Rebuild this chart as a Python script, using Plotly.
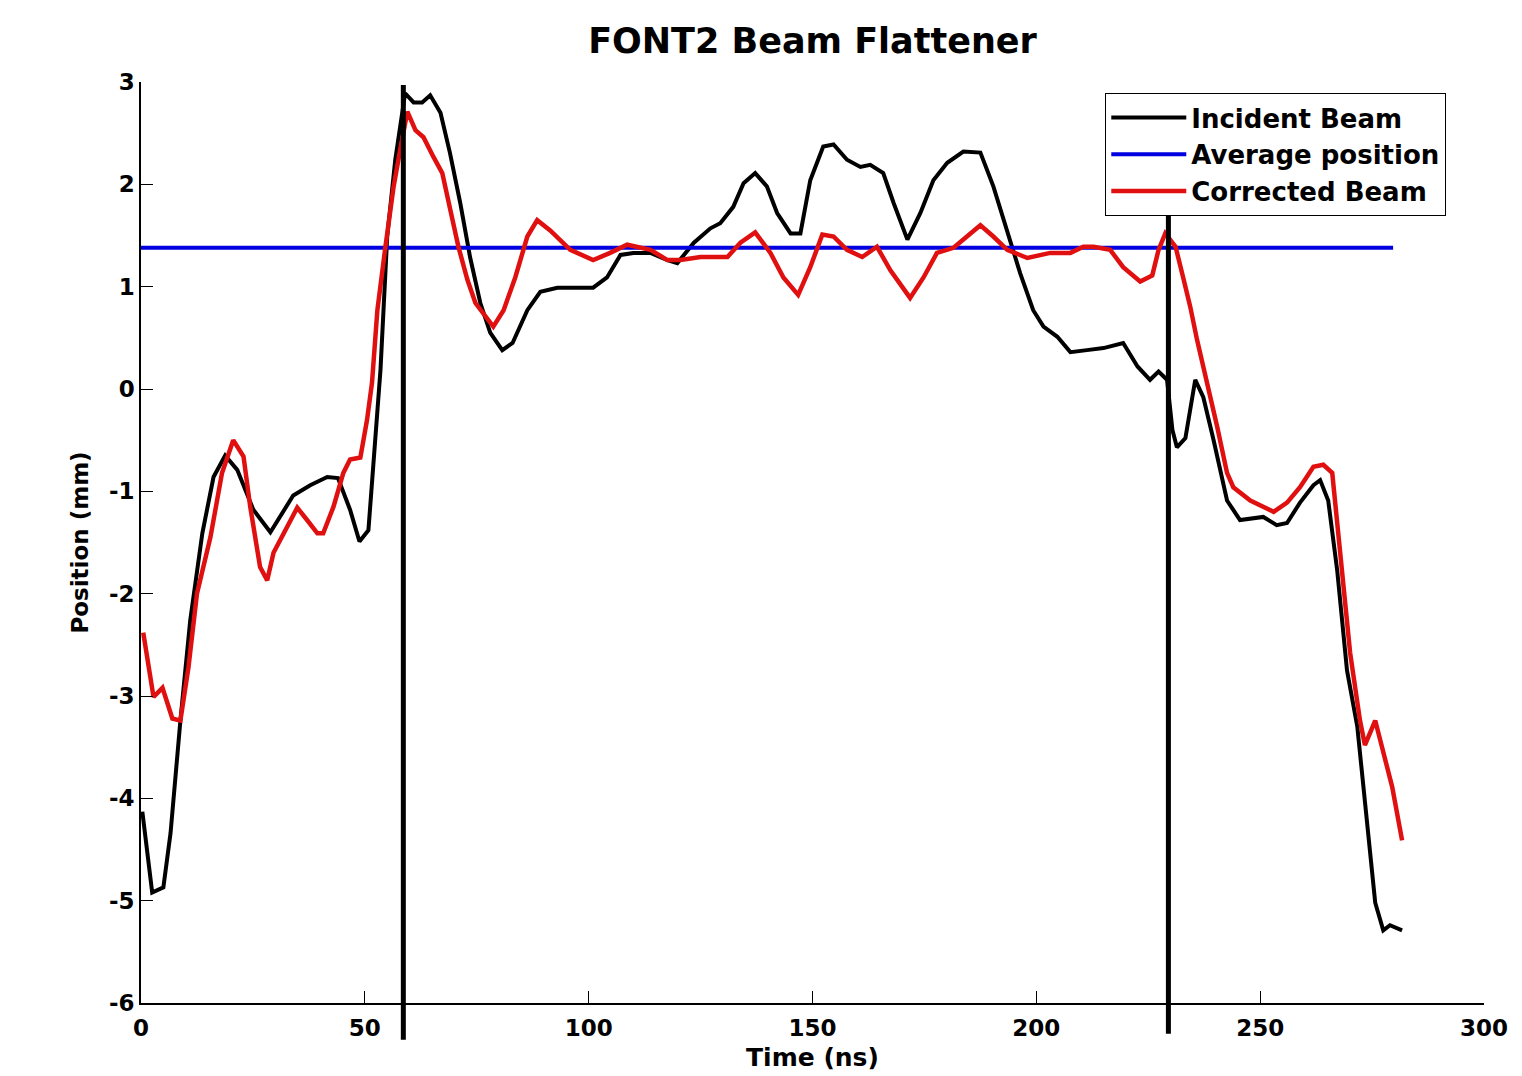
import plotly.graph_objects as go

# Incident beam (black)
inc_t = [0.3, 2.5, 5.0, 6.6, 8.8, 11.0, 13.7, 16.2, 18.8, 21.5, 25.1, 28.9, 34.0, 37.8, 41.6, 44.0,
         46.7, 48.8, 50.8, 52.3, 53.5, 55.0, 56.8, 59.0, 60.9, 62.8, 64.6, 66.9, 69.0, 71.3, 73.5,
         75.8, 78.0, 80.7, 83.0, 86.3, 89.2, 93.0, 97.4, 101.0, 104.1, 107.1, 110.0, 113.8, 117.6,
         119.8, 123.5, 127.2, 129.4, 132.3, 134.6, 137.2, 139.8, 142.1, 145.1, 147.3, 149.5, 152.4,
         154.7, 157.7, 160.7, 162.9, 165.8, 168.1, 171.2, 174.1, 177.0, 180.1, 183.7, 187.5, 190.4,
         193.5, 196.4, 199.3, 201.6, 204.7, 207.6, 211.3, 215.0, 219.4, 222.6, 225.4, 227.3, 229.2,
         230.4, 231.4, 233.3, 235.5, 237.3, 239.6, 242.6, 245.5, 250.7, 253.7, 256.0, 258.9, 261.9,
         263.4, 265.2, 267.2, 269.4, 271.7, 273.0, 274.6, 275.7, 277.5, 279.0, 281.7]
inc_y = [-4.13, -4.92, -4.87, -4.34, -3.24, -2.26, -1.41, -0.86, -0.65, -0.79, -1.18, -1.40, -1.04,
         -0.94, -0.86, -0.87, -1.18, -1.49, -1.38, -0.57, 0.19, 1.49, 2.24, 2.89, 2.80, 2.80, 2.87,
         2.70, 2.31, 1.82, 1.29, 0.84, 0.55, 0.38, 0.45, 0.77, 0.95, 0.99, 0.99, 0.99, 1.09, 1.31,
         1.33, 1.33, 1.26, 1.23, 1.43, 1.57, 1.62, 1.78, 2.01, 2.11, 1.98, 1.72, 1.52, 1.52, 2.04,
         2.37, 2.39, 2.24, 2.17, 2.19, 2.11, 1.82, 1.46, 1.72, 2.04, 2.21, 2.32, 2.31, 1.98, 1.55,
         1.13, 0.77, 0.61, 0.51, 0.36, 0.38, 0.40, 0.45, 0.22, 0.09, 0.17, 0.09, -0.40, -0.57,
         -0.48, 0.09, -0.08, -0.50, -1.09, -1.28, -1.25, -1.33, -1.31, -1.11, -0.94, -0.89, -1.09,
         -1.77, -2.75, -3.30, -3.89, -4.54, -5.02, -5.29, -5.24, -5.29]

# Corrected beam (red)
cor_t = [0.5, 2.8, 4.8, 7.0, 8.8, 10.6, 12.5, 15.5, 18.1, 20.6, 22.9, 24.4, 26.6, 28.2, 29.6, 31.8,
         34.9, 37.1, 39.4, 40.7, 43.0, 45.2, 46.7, 49.0, 50.5, 51.6, 52.8, 54.6, 56.4, 57.9, 59.5,
         61.3, 63.1, 65.3, 67.3, 69.1, 70.9, 72.9, 74.7, 78.7, 81.0, 83.6, 86.3, 88.5, 91.4, 95.9,
         101.0, 104.8, 108.6, 113.8, 117.6, 120.5, 125.0, 131.0, 133.9, 137.2, 140.6, 143.5, 146.8,
         149.5, 152.2, 154.7, 157.7, 161.1, 164.4, 167.4, 171.8, 174.8, 177.8, 181.5, 184.5, 187.5,
         190.4, 193.5, 198.0, 203.1, 207.6, 210.5, 212.8, 216.5, 219.4, 223.2, 225.9, 227.3, 228.8,
         231.1, 232.8, 234.4, 235.9, 238.2, 240.4, 242.6, 244.0, 247.8, 253.0, 256.0, 258.9, 261.9,
         264.1, 266.1, 267.2, 268.6, 270.1, 272.3, 273.4, 275.7, 277.5, 279.5, 281.7]
cor_y = [-2.38, -3.01, -2.92, -3.22, -3.24, -2.72, -2.00, -1.45, -0.82, -0.50, -0.66, -1.15, -1.74,
         -1.87, -1.60, -1.41, -1.16, -1.28, -1.41, -1.41, -1.15, -0.82, -0.69, -0.67, -0.30, 0.06,
         0.77, 1.39, 1.97, 2.34, 2.71, 2.53, 2.46, 2.27, 2.11, 1.75, 1.39, 1.07, 0.84, 0.61, 0.77,
         1.09, 1.49, 1.65, 1.55, 1.36, 1.26, 1.33, 1.41, 1.36, 1.26, 1.26, 1.29, 1.29, 1.43, 1.53,
         1.33, 1.09, 0.92, 1.19, 1.51, 1.49, 1.36, 1.29, 1.39, 1.16, 0.89, 1.09, 1.33, 1.38, 1.49,
         1.60, 1.49, 1.36, 1.28, 1.33, 1.33, 1.39, 1.39, 1.36, 1.19, 1.05, 1.11, 1.36, 1.52, 1.39,
         1.09, 0.80, 0.48, 0.06, -0.37, -0.82, -0.96, -1.09, -1.20, -1.11, -0.96, -0.76, -0.74,
         -0.82, -1.28, -1.93, -2.58, -3.24, -3.48, -3.24, -3.53, -3.89, -4.41]

# Average position (blue)
avg_t = [0.0, 279.7]
avg_y = [1.38, 1.38]

# Vertical marker lines (ns, top mm, bottom mm)
vline_t = [58.6, 229.5]
vline_top = [2.97, 1.75]
vline_bottom = [-6.36, -6.30]

x_ticks = [0, 50, 100, 150, 200, 250, 300]
y_ticks = [-6, -5, -4, -3, -2, -1, 0, 1, 2, 3]

X_RANGE = [0, 300]
Y_RANGE = [-6, 3]

FONT = "DejaVu Sans"

fig = go.Figure()
fig.add_trace(go.Scatter(x=inc_t, y=inc_y, mode="lines", name="<b>Incident Beam</b>",
                         line=dict(color="black", width=4)))
fig.add_trace(go.Scatter(x=avg_t, y=avg_y, mode="lines", name="<b>Average position</b>",
                         line=dict(color="#0000e0", width=4)))
fig.add_trace(go.Scatter(x=cor_t, y=cor_y, mode="lines", name="<b>Corrected Beam</b>",
                         line=dict(color="#e01010", width=4.5)))

def to_paper(v):
    return (v - Y_RANGE[0]) / (Y_RANGE[1] - Y_RANGE[0])

for t, top, bot in zip(vline_t, vline_top, vline_bottom):
    fig.add_shape(type="line", xref="x", yref="paper", x0=t, x1=t,
                  y0=to_paper(bot), y1=to_paper(top),
                  line=dict(color="black", width=5), layer="above")

fig.update_layout(
    width=1522, height=1076,
    paper_bgcolor="white", plot_bgcolor="white",
    margin=dict(l=133, r=46, t=74, b=81),
    font=dict(family=FONT, color="black"),
    title=dict(text="<b>FONT2 Beam Flattener</b>", x=0.5, xref="paper",
               y=1 - 33 / 1076, yanchor="middle", font=dict(family=FONT, size=35, color="black")),
    legend=dict(x=0.718, y=0.988, xanchor="left", yanchor="top",
                bgcolor="white", bordercolor="black", borderwidth=1,
                font=dict(family=FONT, size=26, color="black"),
                itemwidth=75, tracegroupgap=0),
    showlegend=True,
)
fig.update_xaxes(range=X_RANGE, tickvals=x_ticks, ticktext=[f"<b>{v}</b>" for v in x_ticks],
                 showgrid=False, zeroline=False, showline=True, linecolor="black", linewidth=1.5,
                 ticks="inside", ticklen=12, tickcolor="black", tickwidth=1.2, mirror=False,
                 tickfont=dict(family=FONT, size=23, color="black"), ticklabelstandoff=4,
                 title=dict(text="<b>Time (ns)</b>", font=dict(family=FONT, size=25, color="black"),
                            standoff=8))
fig.update_yaxes(range=Y_RANGE, tickvals=y_ticks, ticktext=[f"<b>{t}</b>" for t in y_ticks],
                 showgrid=False, zeroline=False, showline=True, linecolor="black", linewidth=1.5,
                 ticks="inside", ticklen=12, tickcolor="black", tickwidth=1.2, mirror=False,
                 tickfont=dict(family=FONT, size=23, color="black"),
                 title=dict(text="<b>Position (mm)</b>", font=dict(family=FONT, size=23, color="black"),
                            standoff=14))

fig.write_html("out.html")
